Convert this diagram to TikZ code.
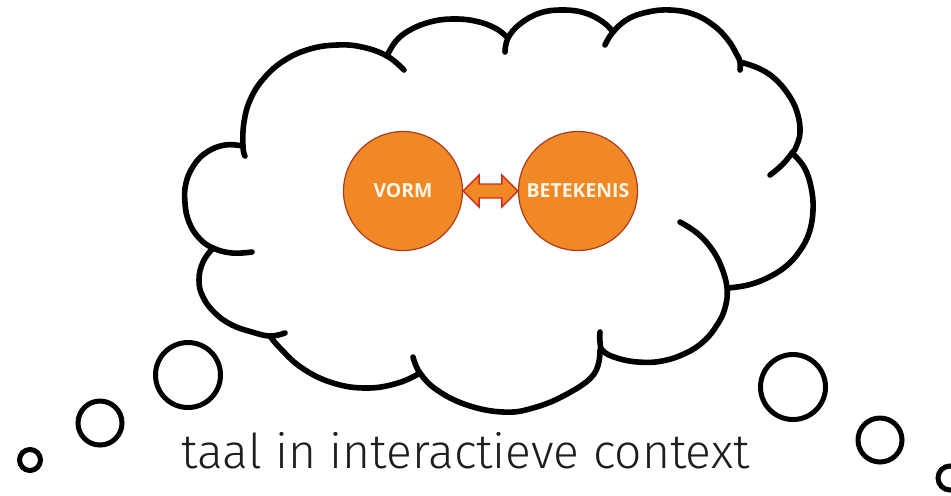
\documentclass[tikz,border=0pt]{standalone}
\usepackage{fontspec}
\setmainfont{Open Sans}
\newfontfamily\lightfont{Fira Sans Light}
\usetikzlibrary{calc}
\definecolor{orangefill}{RGB}{240,136,38}
\definecolor{circborder}{RGB}{170,60,30}
\definecolor{arrowborder}{RGB}{205,45,30}
\definecolor{labeltext}{RGB}{255,246,232}
\definecolor{captext}{RGB}{30,30,30}
\begin{document}
\begin{tikzpicture}[x=0.5pt,y=-0.5pt,
  cloudline/.style={line width=2.8pt, line cap=round, line join=round},
  bubble/.style={line width=2.5pt, draw=black},
  concept/.style={circle, fill=orangefill, draw=circborder, line width=0.6pt,
    minimum size=59.5pt, inner sep=0pt, text=labeltext,
    font=\bfseries\fontsize{9.7}{11}\selectfont},
  dblarrow/.style={fill=orangefill, draw=arrowborder, line width=0.7pt, line join=miter},
  caption/.style={font=\lightfont\fontsize{24}{28}\selectfont, text=captext, inner sep=0pt, anchor=base}]
\useasboundingbox (0,0) rectangle (951,495);
\fill[white] (0,0) rectangle (951,495);
\begin{scope}
\clip (0,0) rectangle (951,495);
% cloud lobes
\draw[cloudline] plot[smooth, tension=0.7] coordinates {(245,156) (243,147) (244,122) (251,98) (265,77) (285,60) (310,49) (337,45) (362,47) (387,56) (404,70)};
\draw[cloudline] plot[smooth, tension=0.7] coordinates {(387,56) (396,41) (410,30) (430,22) (452,19) (475,21) (495,28) (508,38)};
\draw[cloudline] plot[smooth, tension=0.7] coordinates {(505,52) (508,38) (520,24) (540,13) (563,10) (585,13) (603,22) (613,32)};
\draw[cloudline] plot[smooth, tension=0.7] coordinates {(605,45) (613,32) (628,19) (648,12) (670,10) (693,14) (713,25) (728,40) (737,55) (740,62) (740,70)};
\draw[cloudline] plot[smooth, tension=0.7] coordinates {(740,62) (758,68) (774,78) (788,94) (797,112) (800,132) (796,147) (792,153) (782,165) (770,175)};
\draw[cloudline] plot[smooth, tension=0.7] coordinates {(792,153) (804,167) (811,187) (813,210) (809,233) (799,252) (785,267) (767,278) (748,285) (728,288)};
\draw[cloudline] plot[smooth, tension=0.7] coordinates {(680,222) (697,233) (711,248) (721,266) (727,288) (725,308) (717,325) (704,341) (686,353) (662,361) (638,362) (617,358) (603,351) (600,342) (600,332)};
\draw[cloudline] plot[smooth, tension=0.7] coordinates {(600,350) (594,374) (567,394) (533,408) (503,412) (467,405) (437,390) (420,373) (413,357)};
\draw[cloudline] plot[smooth, tension=0.7] coordinates {(420,373) (398,383) (367,388) (333,383) (302,368) (280,348) (270,336)};
\draw[cloudline] plot[smooth, tension=0.7] coordinates {(213,248) (203,262) (199,280) (203,297) (215,313) (232,325) (252,332) (270,336) (285,333)};
\draw[cloudline] plot[smooth, tension=0.7] coordinates {(243,146) (225,145) (207,152) (194,165) (186,183) (185,203) (189,222) (199,238) (213,248) (232,253) (252,252)};
% thought bubbles
\draw[bubble] (188,375) circle[radius=32.5];
\draw[bubble] (100,423) circle[radius=22];
\draw[bubble] (30,460) circle[radius=10.5];
\draw[bubble] (793,387) circle[radius=32.5];
\draw[bubble] (880,440) circle[radius=22];
\draw[bubble] (950,478) circle[radius=12];
\end{scope}
% concepts
\node[concept] (vorm) at (403,191) {VORM};
\node[concept] (bet) at (578,191) {BETEKENIS};
\draw[dblarrow] (vorm.east) -- ($(vorm.east)+(16,-16)$) -- ($(vorm.east)+(16,-7)$)
  -- ($(bet.west)+(-16,-7)$) -- ($(bet.west)+(-16,-16)$) -- (bet.west)
  -- ($(bet.west)+(-16,16)$) -- ($(bet.west)+(-16,7)$) -- ($(vorm.east)+(16,7)$)
  -- ($(vorm.east)+(16,16)$) -- cycle;
% caption
\node[caption] (cap) at (465.5,468) {taal in interactieve context};
\end{tikzpicture}
\end{document}
